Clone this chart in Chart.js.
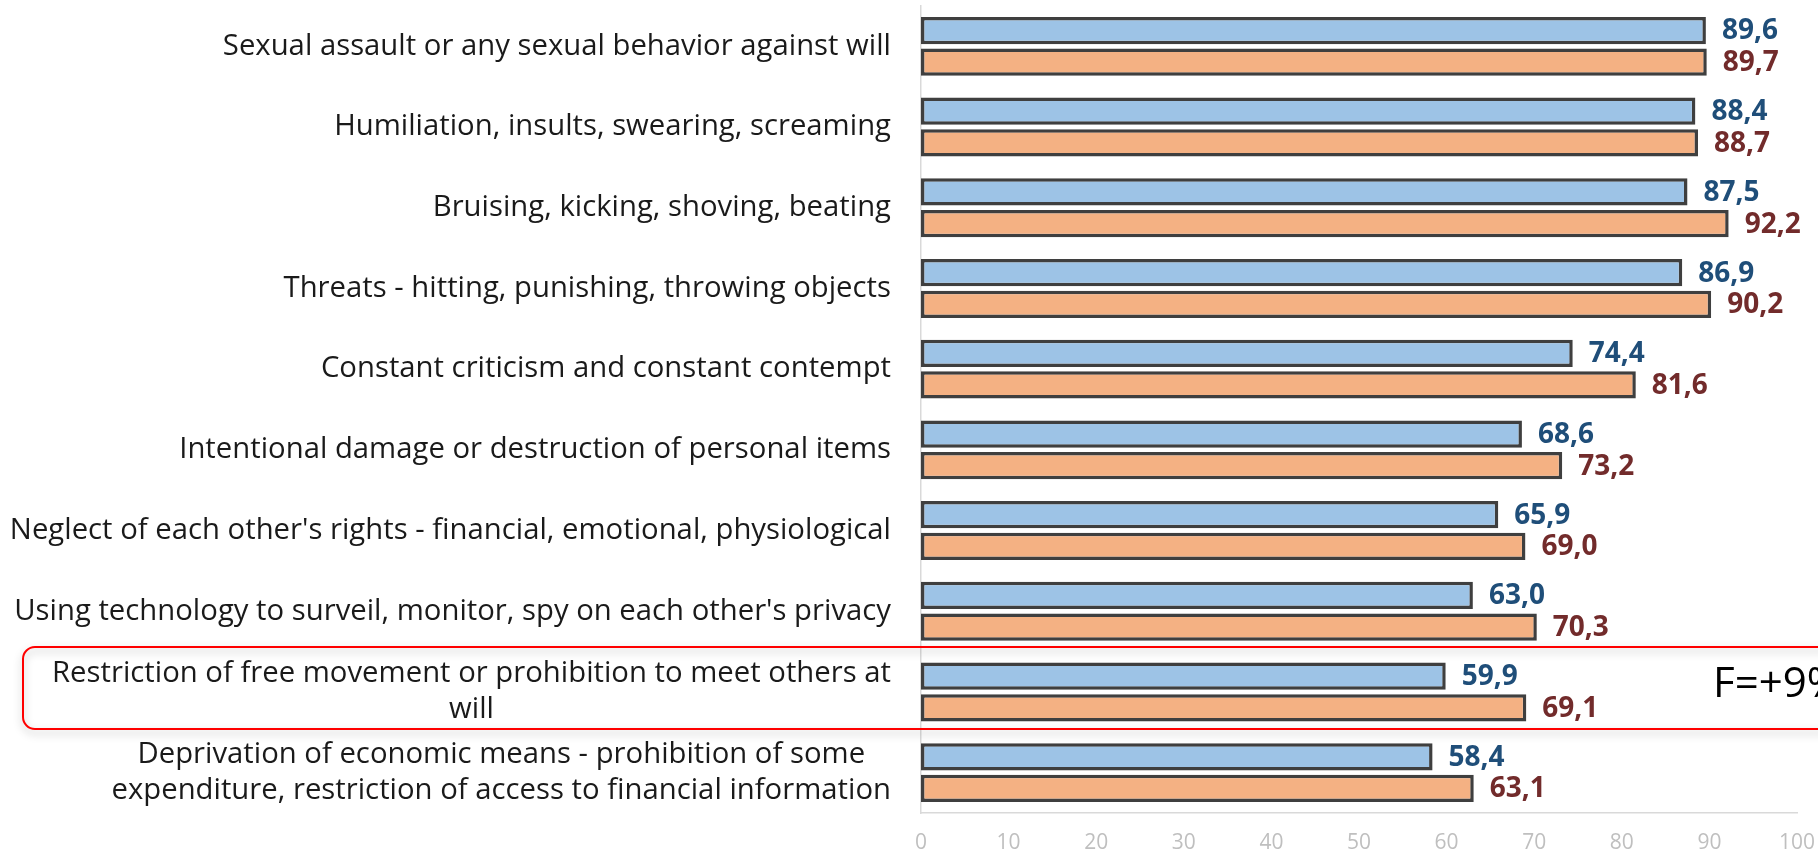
<!DOCTYPE html>
<html><head><meta charset="utf-8">
<script src="https://cdn.jsdelivr.net/npm/chart.js@4.4.1/dist/chart.umd.min.js"></script>
<style>html,body{margin:0;padding:0;background:#fff;overflow:hidden}#wrap{width:1818px;height:855px}</style>
</head><body><div id="wrap"><canvas id="c" width="1818" height="855"></canvas></div>
<script>
const categories = [
  ["Sexual assault or any sexual behavior against will"],
  ["Humiliation, insults, swearing, screaming"],
  ["Bruising, kicking, shoving, beating"],
  ["Threats - hitting, punishing, throwing objects"],
  ["Constant criticism and constant contempt"],
  ["Intentional damage or destruction of personal items"],
  ["Neglect of each other's rights - financial, emotional, physiological"],
  ["Using technology to surveil, monitor, spy on each other's privacy"],
  ["Restriction of free movement or prohibition to meet others at", "will"],
  ["Deprivation of economic means - prohibition of some", "expenditure, restriction of access to financial information"]
];
const seriesBlue = [89.6, 88.4, 87.5, 86.9, 74.4, 68.6, 65.9, 63.0, 59.9, 58.4];
const seriesOrange = [89.7, 88.7, 92.2, 90.2, 81.6, 73.2, 69.0, 70.3, 69.1, 63.1];
const xTickValues = [0, 10, 20, 30, 40, 50, 60, 70, 80, 90, 100];
const highlightIndex = 8;
const highlightText = "F=+9%";

const FONT = "'Open Sans', 'Noto Sans', sans-serif";
const labelColors = ["#1F4E79", "#722B2B"];

const yLabelsPlugin = {
  id: 'yLabels',
  afterDraw(chart) {
    const ctx = chart.ctx, y = chart.scales.y;
    const rightX = chart.chartArea.left - 30;
    const sx = 1.01, lh = 36;
    ctx.save();
    ctx.font = "29px " + FONT;
    ctx.fillStyle = "#1a1a1a";
    ctx.textBaseline = "middle";
    categories.forEach((lines, i) => {
      const cy = y.getPixelForValue(i);
      let w = 0;
      lines.forEach(l => { w = Math.max(w, ctx.measureText(l).width); });
      const cx = rightX - w * sx / 2;
      lines.forEach((l, j) => {
        const ly = cy + (j - (lines.length - 1) / 2) * lh;
        ctx.save();
        ctx.translate(cx, ly);
        ctx.scale(sx, 1);
        ctx.textAlign = "center";
        ctx.fillText(l, 0, 0);
        ctx.restore();
      });
    });
    ctx.restore();
  }
};

const valueLabelsPlugin = {
  id: 'valueLabels',
  afterDatasetsDraw(chart) {
    const ctx = chart.ctx;
    ctx.save();
    ctx.font = "bold 28px " + FONT;
    ctx.textBaseline = "middle";
    ctx.textAlign = "left";
    chart.data.datasets.forEach((ds, di) => {
      const meta = chart.getDatasetMeta(di);
      ctx.fillStyle = labelColors[di];
      meta.data.forEach((bar, i) => {
        const txt = ds.data[i].toFixed(1).replace('.', ',');
        ctx.fillText(txt, bar.x + 16, bar.y + 1);
      });
    });
    ctx.restore();
  }
};

const highlightPlugin = {
  id: 'highlight',
  afterDraw(chart) {
    const ctx = chart.ctx, y = chart.scales.y;
    const cy = y.getPixelForValue(highlightIndex);
    const top = cy - 45, bottom = cy + 37;
    const left = 23, right = 1840, r = 12;
    ctx.save();
    ctx.shadowColor = "rgba(0,0,0,0.28)";
    ctx.shadowBlur = 8;
    ctx.shadowOffsetY = 4;
    ctx.strokeStyle = "#FF0000";
    ctx.lineWidth = 2;
    ctx.beginPath();
    ctx.moveTo(left + r, top);
    ctx.lineTo(right, top);
    ctx.lineTo(right, bottom);
    ctx.lineTo(left + r, bottom);
    ctx.arcTo(left, bottom, left, bottom - r, r);
    ctx.lineTo(left, top + r);
    ctx.arcTo(left, top, left + r, top, r);
    ctx.closePath();
    ctx.stroke();
    ctx.restore();
    ctx.save();
    ctx.font = "42px " + FONT;
    ctx.fillStyle = "#000";
    ctx.textBaseline = "middle";
    ctx.textAlign = "left";
    ctx.fillText(highlightText, 1713, cy - 7);
    ctx.restore();
  }
};

new Chart(document.getElementById('c'), {
  type: 'bar',
  data: {
    labels: categories,
    datasets: [
      { data: seriesBlue, backgroundColor: "#9DC3E6", borderColor: "#3F3F3F", borderWidth: 3.5, borderSkipped: false,
        categoryPercentage: 0.785, barPercentage: 0.86 },
      { data: seriesOrange, backgroundColor: "#F4B183", borderColor: "#3F3F3F", borderWidth: 3.5, borderSkipped: false,
        categoryPercentage: 0.785, barPercentage: 0.86 }
    ]
  },
  options: {
    indexAxis: 'y',
    responsive: false,
    animation: false,
    devicePixelRatio: 1,
    layout: { padding: { top: 6, right: 21, left: 0, bottom: 0 } },
    plugins: { legend: { display: false }, tooltip: { enabled: false } },
    scales: {
      x: {
        min: 0, max: 100,
        afterBuildTicks(s) { s.ticks = xTickValues.map(v => ({ value: v })); },
        ticks: { color: "#BFBFBF", font: { family: FONT, size: 21 }, padding: 17, maxRotation: 0 },
        grid: { display: false, drawTicks: false },
        border: { display: true, color: "#D9D9D9", width: 1.5 },
        afterFit(s) { s.height = 42; s.paddingLeft = 0; s.paddingRight = 0; }
      },
      y: {
        ticks: { display: false },
        grid: { display: false, drawTicks: false },
        border: { display: true, color: "#D9D9D9", width: 1.5 },
        afterFit(s) { s.width = 921; }
      }
    }
  },
  plugins: [yLabelsPlugin, valueLabelsPlugin, highlightPlugin]
});
</script>
</body></html>
